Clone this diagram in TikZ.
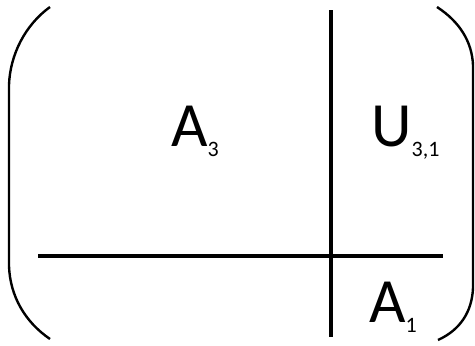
\documentclass[tikz,border=0pt]{standalone}
\usepackage{fontspec}
\setmainfont{Carlito}
\newcommand{\subtxt}[1]{\raisebox{-10pt}{\fontsize{22}{22}\selectfont #1}}
\begin{document}
\begin{tikzpicture}[x=1pt,y=-1pt,
  stroke/.style={line width=3.4pt,black},
  paren/.style={line width=2.4pt,black},
  lbl/.style={inner sep=0pt,anchor=base west,font=\fontsize{63}{63}\selectfont}]
\useasboundingbox (0,0) rectangle (475,346);
% brackets
\draw[paren] (50,7) .. controls (25,25) and (10,55) .. (9,85) -- (9,266) .. controls (10,296) and (25,322) .. (50,339);
\draw[paren] (437,7) .. controls (460,22) and (472,42) .. (473,65) -- (473,288) .. controls (472,312) and (460,330) .. (438,340);
% partition lines
\coordinate (vtop) at (331,10);
\coordinate (vbot) at (331,337);
\coordinate (hl) at (38,256);
\coordinate (hr) at (443,256);
\draw[stroke] (vtop) -- (vbot);
\draw[stroke] (hl) -- (hr);
% labels
\node[lbl] (a3) at (171,146) {A\subtxt{3}};
\node[lbl] (u31) at (371,146) {U\subtxt{3,1}};
\node[lbl] (a1) at (369,322) {A\subtxt{1}};
\end{tikzpicture}
\end{document}
